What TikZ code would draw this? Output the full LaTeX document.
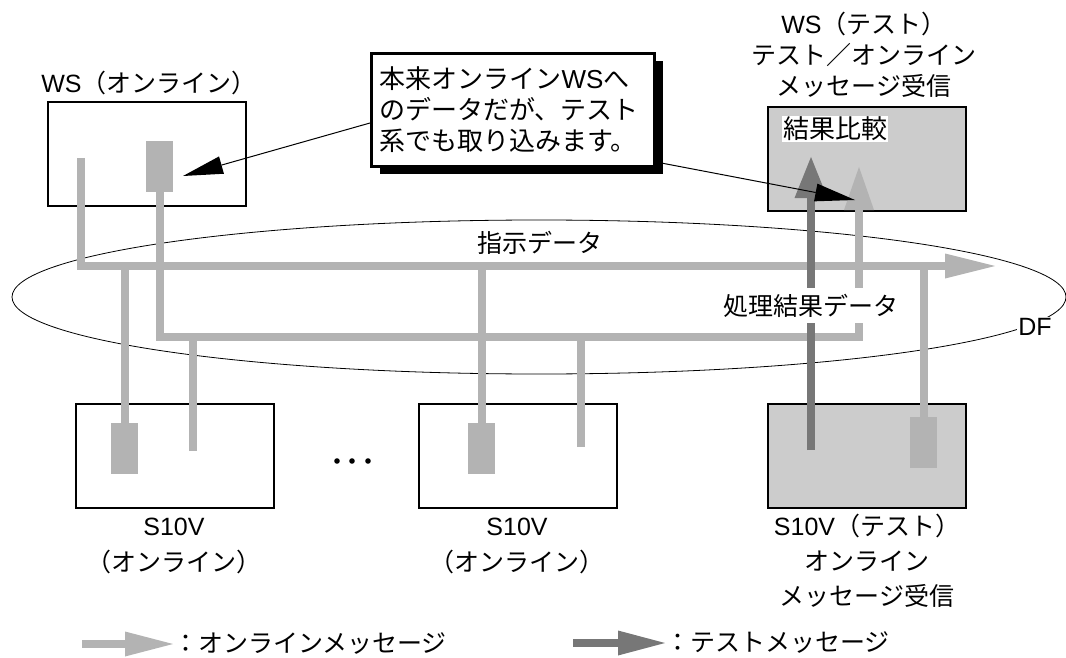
\documentclass[tikz,border=0pt]{standalone}
\usepackage{fontspec}
\setmainfont{Noto Sans CJK JP}
\newfontfamily\lat{Liberation Sans}
\usetikzlibrary{arrows.meta,shapes.geometric,shadows}
\definecolor{lg}{HTML}{B3B3B3}
\definecolor{dg}{HTML}{777777}
\definecolor{bf}{HTML}{CCCCCC}
\begin{document}
\begin{tikzpicture}[x=1pt,y=-1pt,
  every node/.style={font=\fontsize{25}{31}\selectfont},
  sys/.style={draw=black,line width=2pt,minimum width=198pt,minimum height=104pt,inner sep=0pt,anchor=north west},
  msg/.style={fill=lg,minimum width=27pt,minimum height=51pt,inner sep=0pt,anchor=north west},
  online/.style={draw=lg,line width=8pt},
  testmsg/.style={draw=dg,line width=8pt},
  lbl/.style={align=center,inner sep=0pt},
  callarrow/.style={draw=black,line width=1pt,-{Triangle[length=40pt,width=18pt,line width=0pt]}},
]
\useasboundingbox (0,0) rectangle (1066,658);

% DF ellipse
\node[draw,ellipse,line width=0.8pt,minimum width=1054pt,minimum height=154pt,inner sep=0pt] (df) at (539,297) {};

% systems
\node[sys] (wson) at (47,101) {};
\node[sys,fill=bf] (wstest) at (767,106) {};
\node[sys] (sv1) at (75,403) {};
\node[sys] (sv2) at (418,403) {};
\node[sys,fill=bf] (sv3) at (767,403) {};

% message blocks
\node[msg] (mws) at (146,141) {};
\node[msg] (m1) at (111,423) {};
\node[msg] (m2) at (468,423) {};
\node[msg] (m3) at (910,417) {};

% coordinates
\coordinate (wsL) at (81,158);
\coordinate (busA) at (0,266);
\coordinate (busAend) at (995,266);
\coordinate (busB) at (0,337);
\coordinate (resTurn) at (859,337);
\coordinate (resTip) at (859,167);
\coordinate (testTip) at (811,157);
\coordinate (t3) at (811,450);
\coordinate (r1) at (193,451);
\coordinate (r2) at (581,447);

% online message lines
\draw[online,-{Triangle[length=50pt,width=25pt,line width=0pt]}] (wsL) -- (wsL |- busA) -- (busAend);
\draw[online] (m1.north |- busA) -- (m1.north);
\draw[online] (m2.north |- busA) -- (m2.north);
\draw[online] (m3.north |- busA) -- (m3.north);
\draw[online,-{Triangle[length=43pt,width=30pt,line width=0pt]}] (mws.south) -- (mws.south |- busB) -- (resTurn) -- (resTip);
\draw[online] (r1) -- (r1 |- busB);
\draw[online] (r2) -- (r2 |- busB);
% test message line
\draw[testmsg,-{Triangle[length=41pt,width=33pt,line width=0pt]}] (t3) -- (testTip);

% labels
\node[inner sep=0pt] (shiji) at (540,243) {指示データ};
\node[fill=white,inner xsep=2pt,inner ysep=0pt,minimum height=35pt] (shori) at (811,305.5) {処理結果データ};
\node[fill=white,inner sep=1pt,anchor=west,font=\fontsize{26}{30}\selectfont] (hikaku) at (782,129) {結果比較};
\node[fill=white,inner sep=1pt] (dflbl) at (1035,327) {\lat DF};

\node[lbl] (wsonlbl) at (149,83) {{\lat WS}（オンライン）};
\node[lbl] (wstestlbl) at (864,55) {{\lat WS}（テスト）\\テスト／オンライン\\メッセージ受信};
\node[lbl,font=\fontsize{25}{36}\selectfont] (sv1lbl) at (174,546) {{\lat S10V}\\（オンライン）};
\node[lbl,font=\fontsize{25}{36}\selectfont] (sv2lbl) at (517,546) {{\lat S10V}\\（オンライン）};
\node[lbl,font=\fontsize{25}{35}\selectfont] (sv3lbl) at (867,561) {{\lat S10V}（テスト）\\オンライン\\メッセージ受信};

% dots
\fill (337,461) circle (2.8pt);
\fill (352,461) circle (2.8pt);
\fill (368,461) circle (2.8pt);

% callout
\node[draw,line width=3pt,fill=white,anchor=north west,minimum width=283pt,minimum height=113pt,
  inner xsep=8pt,inner ysep=0pt,text width=267pt,align=left,font=\fontsize{26}{31}\selectfont,
  drop shadow={shadow xshift=8pt,shadow yshift=-8pt,fill=black,opacity=1}] (callout) at (370,52)
  {本来オンライン{\lat WS}へ\\のデータだが、テスト\\系でも取り込みます。};
\coordinate (ca1tip) at (183,176);
\coordinate (ca2tip) at (855,200);
\draw[callarrow] ([yshift=-13pt]callout.west) -- (ca1tip);
\draw[callarrow] ([yshift=-52pt]callout.east) -- (ca2tip);

% legend
\node[anchor=west,inner sep=0pt] (leg1) at (173,644) {：オンラインメッセージ};
\coordinate (lg1) at (82,644);
\draw[online,-{Triangle[length=48pt,width=25pt,line width=0pt]}] (lg1) -- (leg1.west);
\node[anchor=west,inner sep=0pt] (leg2) at (665,643) {：テストメッセージ};
\coordinate (lg2) at (573,643);
\draw[testmsg,-{Triangle[length=47pt,width=25pt,line width=0pt]}] (lg2) -- (leg2.west);
\end{tikzpicture}
\end{document}
